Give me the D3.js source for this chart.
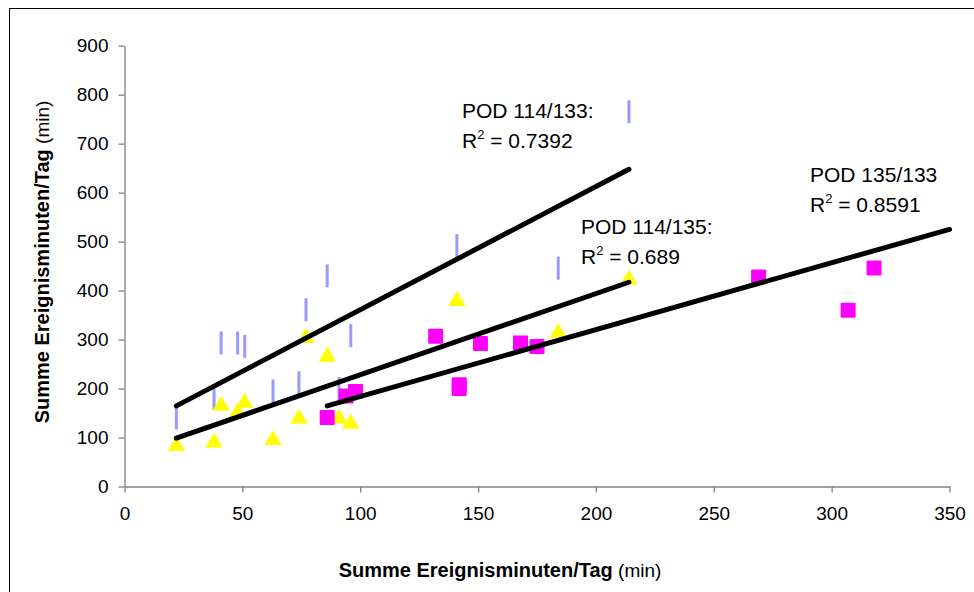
<!DOCTYPE html>
<html lang="de">
<head>
<meta charset="UTF-8">
<title>Summe Ereignisminuten/Tag</title>
<script src="https://d3js.org/d3.v7.min.js"></script>
<style>
    body { margin: 0; background: #fff; font-family: Arial, "Liberation Sans", sans-serif; }
    .axis path, .axis line { stroke: #808080; stroke-width: 1.3; }
    .axis text { font-family: Arial, "Liberation Sans", sans-serif; font-size: 19px; fill: #000; }
</style>
</head>
<body>
<svg id="chart" width="974" height="592"></svg>
<script>
// x values shared by the POD 114 series (blue and yellow)
const pod114 = [22, 38, 41, 48, 51, 63, 74, 77, 86, 91, 96, 141, 184, 214];
const pod133vs114 = [140, 180, 293, 293, 286, 195, 212, 361, 430, 200, 308, 492, 446, 765];
const pod135vs114 = [85, 92, 167, 153, 173, 97, 141, 305, 267, 141, 130, 381, 316, 424];

// POD 135 series (magenta)
const pod135 = [86, 94, 98, 132, 142, 142, 151, 168, 175, 269, 307, 318];
const pod133vs135 = [141, 185, 194, 307, 208, 200, 292, 293, 286, 428, 360, 446];

// trend lines
const trendNames = ["POD 114/133:", "POD 114/135:", "POD 135/133"];
const trendR2 = ["0.7392", "0.689", "0.8591"];
const trendSlope = [2.516, 1.658, 1.365];
const trendIntercept = [109.3, 62.2, 47.3];
const trendFrom = [22, 22, 86];
const trendTo = [214, 214, 350];

const xTicks = [0, 50, 100, 150, 200, 250, 300, 350];
const yTicks = [0, 100, 200, 300, 400, 500, 600, 700, 800, 900];

const svg = d3.select("#chart");

// outer frame
svg.append("rect")
    .attr("x", 9.5).attr("y", 8.5)
    .attr("width", 1000).attr("height", 1000)
    .attr("fill", "none").attr("stroke", "#000").attr("stroke-width", 1);

const x = d3.scaleLinear().domain([0, 350]).range([124.5, 949.5]);
const y = d3.scaleLinear().domain([0, 900]).range([486.5, 45.7]);

svg.append("g").attr("class", "axis")
    .attr("transform", "translate(0,486.5)")
    .call(d3.axisBottom(x).tickValues(xTicks).tickSize(6).tickPadding(14).tickSizeOuter(0))
    .selectAll("text").attr("dy", "0.71em");

svg.append("g").attr("class", "axis")
    .attr("transform", "translate(124.5,0)")
    .call(d3.axisLeft(y).tickValues(yTicks).tickSize(6).tickPadding(10).tickSizeOuter(0));

// POD 114 vs 133: light blue bars
const blue = pod114.map((v, i) => ({ x: v, y: pod133vs114[i] }));
svg.append("g").selectAll("line")
    .data(blue).enter().append("line")
    .attr("x1", d => x(d.x)).attr("x2", d => x(d.x))
    .attr("y1", d => y(d.y) - 11.5).attr("y2", d => y(d.y) + 11.5)
    .attr("stroke", "#9999ff").attr("stroke-width", 3);

// POD 114 vs 135: yellow triangles
const yellow = pod114.map((v, i) => ({ x: v, y: pod135vs114[i] }));
svg.append("g").selectAll("path")
    .data(yellow).enter().append("path")
    .attr("d", d3.symbol(d3.symbolTriangle, 130))
    .attr("transform", d => `translate(${x(d.x)},${y(d.y) + 1})`)
    .attr("fill", "#ffff00");

// POD 135 vs 133: magenta squares
const magenta = pod135.map((v, i) => ({ x: v, y: pod133vs135[i] }));
svg.append("g").selectAll("rect")
    .data(magenta).enter().append("rect")
    .attr("x", d => x(d.x) - 7.5).attr("y", d => y(d.y) - 7.5)
    .attr("width", 15).attr("height", 15)
    .attr("rx", 1)
    .attr("fill", "#ff00ff");

// trend lines
const trends = trendNames.map((n, i) => ({
    name: n, r2: trendR2[i], a: trendSlope[i], b: trendIntercept[i],
    x0: trendFrom[i], x1: trendTo[i]
}));
svg.append("g").selectAll("line")
    .data(trends).enter().append("line")
    .attr("x1", d => x(d.x0)).attr("y1", d => y(d.b + d.a * d.x0))
    .attr("x2", d => x(d.x1)).attr("y2", d => y(d.b + d.a * d.x1))
    .attr("stroke", "#000").attr("stroke-width", 5).attr("stroke-linecap", "round");

// trend labels
const labelPos = [[462, 118], [581, 234], [810, 182]];
trends.forEach((d, i) => {
    const g = svg.append("g").attr("transform", `translate(${labelPos[i][0]},${labelPos[i][1]})`)
        .style("font-size", "21px");
    g.append("text").text(d.name);
    const t = g.append("text").attr("y", 30);
    t.append("tspan").text("R");
    t.append("tspan").attr("dy", -9).style("font-size", "13px").text("2");
    t.append("tspan").attr("dy", 9).text(" = " + d.r2);
});

// axis titles
const xt = svg.append("text").attr("x", 500).attr("y", 577).attr("text-anchor", "middle");
xt.append("tspan").style("font-weight", "bold").style("font-size", "20px").text("Summe Ereignisminuten/Tag");
xt.append("tspan").style("font-size", "19px").text(" (min)");

const yt = svg.append("text").attr("transform", "translate(49,262) rotate(-90)").attr("text-anchor", "middle");
yt.append("tspan").style("font-weight", "bold").style("font-size", "20px").text("Summe Ereignisminuten/Tag");
yt.append("tspan").style("font-size", "19px").text(" (min)");
</script>
</body>
</html>
